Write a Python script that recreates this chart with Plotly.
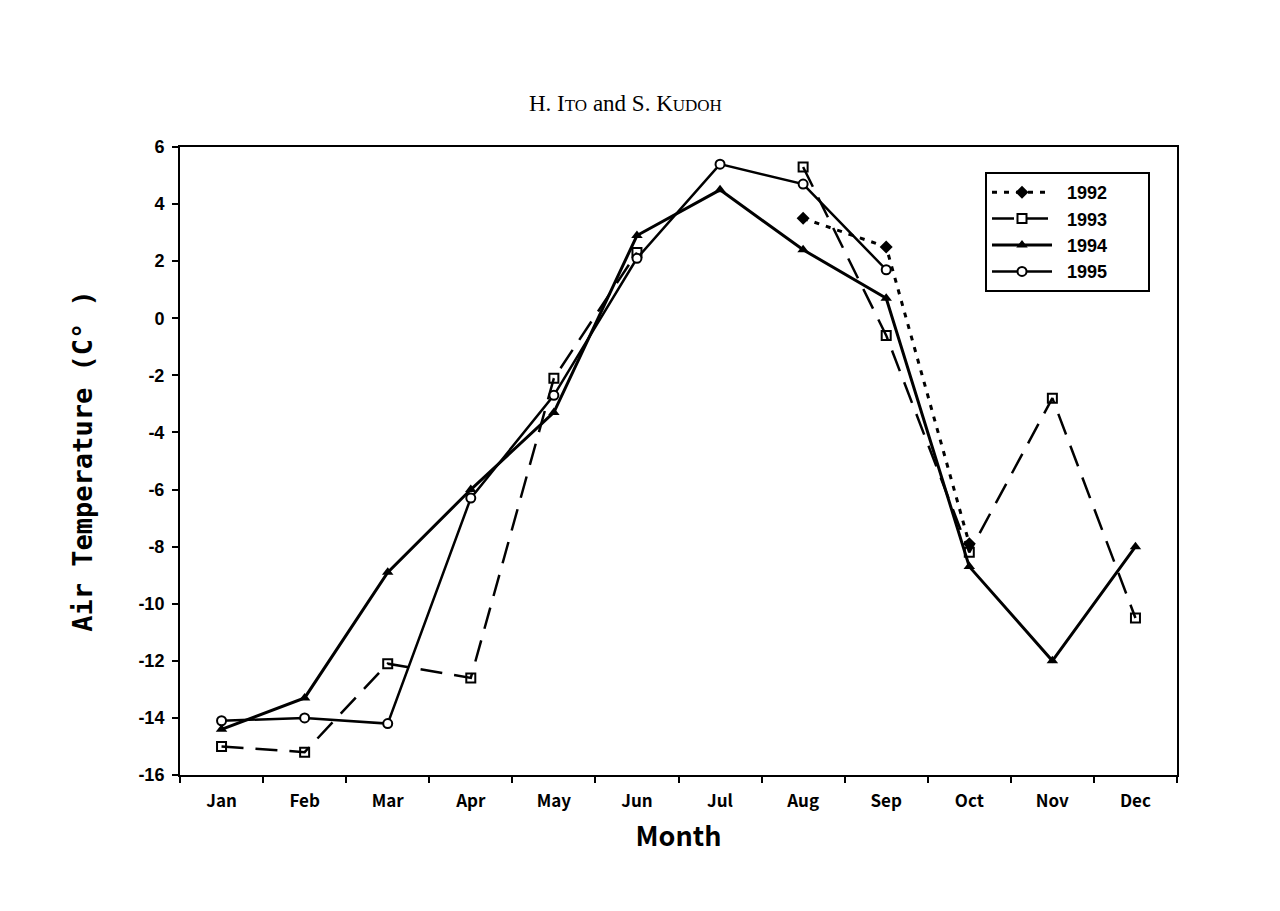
import plotly.graph_objects as go

months = ["Jan", "Feb", "Mar", "Apr", "May", "Jun", "Jul", "Aug", "Sep", "Oct", "Nov", "Dec"]
t1992 = [None, None, None, None, None, None, None, 3.5, 2.5, -7.9, None, None]
t1993 = [-15.0, -15.2, -12.1, -12.6, -2.1, 2.3, None, 5.3, -0.6, -8.2, -2.8, -10.5]
t1994 = [-14.4, -13.3, -8.9, -6.0, -3.3, 2.9, 4.5, 2.4, 0.7, -8.7, -12.0, -8.0]
t1995 = [-14.1, -14.0, -14.2, -6.3, -2.7, 2.1, 5.4, 4.7, 1.7, None, None, None]
series_names = ["1992", "1993", "1994", "1995"]
y_ticks = [6, 4, 2, 0, -2, -4, -6, -8, -10, -12, -14, -16]

# page body has an 8px margin; plot area target: x 180-1177, y 147-775 in window pixels
W, H = 1264, 895
L, T = 172, 139
PW, PH = 997, 628

def legend_label(s):
    return "&nbsp;&nbsp;" + s + "&nbsp;" * 7

fig = go.Figure()
fig.add_trace(go.Scatter(x=months, y=t1992, name=legend_label(series_names[0]), mode="lines+markers",
                         line=dict(color="black", width=3, dash="5px,7px"),
                         marker=dict(symbol="diamond", size=10, color="black")))
fig.add_trace(go.Scatter(x=months, y=t1993, name=legend_label(series_names[1]), mode="lines+markers",
                         line=dict(color="black", width=2.5, dash="22px,12px"),
                         marker=dict(symbol="square-open", size=9, color="black",
                                     line=dict(width=2, color="black"))))
fig.add_trace(go.Scatter(x=months, y=t1994, name=legend_label(series_names[2]), mode="lines+markers",
                         line=dict(color="black", width=3),
                         marker=dict(symbol="triangle-up", size=10, color="black")))
fig.add_trace(go.Scatter(x=months, y=t1995, name=legend_label(series_names[3]), mode="lines+markers",
                         line=dict(color="black", width=2.5),
                         marker=dict(symbol="circle", size=9, color="white",
                                     line=dict(width=2, color="black"))))

fig.update_layout(
    width=W, height=H,
    margin=dict(l=L, r=W - L - PW, t=T, b=H - T - PH),
    paper_bgcolor="white", plot_bgcolor="white",
    showlegend=True,
    legend=dict(x=(985 - 180) / PW, y=(775 - 172) / PH, xanchor="left", yanchor="top",
                bordercolor="black", borderwidth=2, bgcolor="white",
                font=dict(family="Liberation Sans", size=18, color="black", weight="bold"),
                itemwidth=60, tracegroupgap=0),
    annotations=[dict(text="H. I<span style='font-size:17px'>TO</span> and S. K<span style='font-size:17px'>UDOH</span>",
                      x=(625 - 180) / PW, y=(775 - 103) / PH, xref="paper", yref="paper",
                      xanchor="center", yanchor="middle", showarrow=False,
                      font=dict(family="Liberation Serif", size=23, color="black"))],
)

fig.update_xaxes(
    categoryorder="array", categoryarray=months, range=[-0.5, 11.5],
    showline=True, linecolor="black", linewidth=2, mirror=True,
    ticks="outside", tickson="boundaries", ticklen=6, tickwidth=1.5, tickcolor="black",
    ticklabelstandoff=10,
    tickfont=dict(family="Noto Sans CJK JP", size=17, color="black", weight="bold"),
    showgrid=False, zeroline=False,
    title=dict(text="Month", font=dict(family="Noto Sans CJK JP", size=27, color="black", weight="bold"), standoff=16),
)
fig.update_yaxes(
    range=[-16, 6], tickvals=y_ticks, ticktext=[str(v) for v in y_ticks],
    showline=True, linecolor="black", linewidth=2, mirror=True,
    ticks="outside", ticklen=6, tickwidth=1.5, tickcolor="black",
    ticklabelstandoff=4,
    tickfont=dict(family="Liberation Sans", size=18, color="black", weight="bold"),
    showgrid=False, zeroline=False,
    title=dict(text="Air Temperature (C° )", font=dict(family="DejaVu Sans Mono", size=27, color="black", weight="bold"), standoff=38),
)

fig.write_html("out.html")
